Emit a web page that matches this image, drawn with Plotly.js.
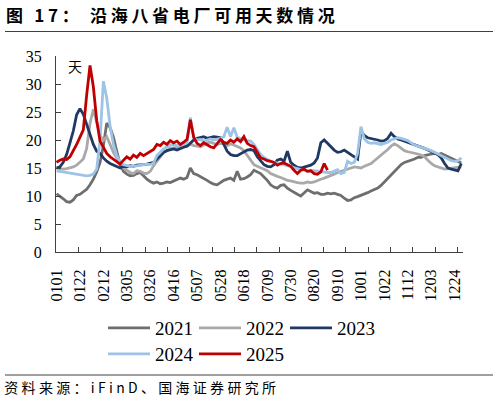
<!DOCTYPE html>
<html><head><meta charset="utf-8">
<script src="https://cdn.plot.ly/plotly-3.0.1.min.js"></script>
<style>
html,body{margin:0;padding:0;background:#fff;}
#chart{width:498px;height:402px;}
.gtitle{letter-spacing:3.7px;}
.annotation[data-index="0"] .annotation-text{letter-spacing:3.3px;}
</style></head><body><div id="chart"></div>
<script>
// sampled dates (every 3 days)
const dates = [
'0101','0104','0107','0110','0113','0116','0119','0122','0125','0128',
'0131','0203','0206','0209','0212','0215','0218','0221','0224','0227',
'0302','0305','0308','0311','0314','0317','0320','0323','0326','0329',
'0401','0404','0407','0410','0413','0416','0419','0422','0425','0428',
'0501','0504','0507','0510','0513','0516','0519','0522','0525','0528',
'0531','0603','0606','0609','0612','0615','0618','0621','0624','0627',
'0630','0703','0706','0709','0712','0715','0718','0721','0724','0727',
'0730','0802','0805','0808','0811','0814','0817','0820','0823','0826',
'0829','0901','0904','0907','0910','0913','0916','0919','0922','0925',
'0928','1001','1004','1007','1010','1013','1016','1019','1022','1025',
'1028','1031','1103','1106','1109','1112','1115','1118','1121','1124',
'1127','1130','1203','1206','1209','1212','1215','1218','1221','1224',
'1227','1230'];
const tickLabels = ['0101','0122','0212','0305','0326','0416','0507','0528','0618','0709','0730','0820','0910','1001','1022','1112','1203','1224'];
const seriesNames = ['2021','2022','2023','2024','2025'];

const v2021 = [
10.4,10.0,9.5,9.0,8.9,9.3,10.1,10.3,10.7,11.2,
12.0,13.0,14.3,16.0,19.0,23.0,22.2,20.5,18.0,15.6,
14.4,13.9,13.6,13.7,14.0,14.2,13.6,13.0,12.6,12.3,
12.5,12.2,12.3,12.5,12.4,12.7,13.0,13.2,13.0,13.3,
15.0,14.0,13.8,13.5,13.2,12.8,12.4,12.1,12.0,12.4,
12.8,13.0,13.2,12.8,14.4,13.0,13.1,13.4,13.8,14.6,
14.3,14.0,13.4,12.8,12.0,11.6,11.4,11.9,12.0,11.4,
11.0,10.6,10.3,10.0,10.6,11.1,10.8,10.5,10.6,10.3,
10.3,10.5,10.4,10.5,10.3,10.1,9.6,9.2,9.3,9.7,
9.9,10.1,10.4,10.6,10.9,11.2,11.4,11.9,12.5,13.2,
13.8,14.3,15.0,15.6,16.0,16.2,16.3,16.6,16.9,16.9,
17.2,17.4,17.5,17.6,17.4,17.6,17.3,17.0,16.7,16.4,
16.1,15.9];
const v2022 = [
15.0,14.9,14.8,14.9,15.0,15.2,15.5,16.0,16.6,18.5,
23.0,25.5,23.0,20.8,20.0,20.6,19.2,17.8,16.8,15.8,
15.0,14.6,14.2,14.0,14.5,14.4,14.1,14.0,14.4,15.4,
16.3,17.0,17.7,18.2,18.5,18.6,18.7,18.9,18.9,19.0,
19.3,19.0,18.9,18.8,19.1,19.5,19.6,19.4,19.2,19.4,
19.3,19.0,19.3,19.1,18.9,18.6,18.1,17.3,16.4,15.6,
15.3,15.0,14.8,14.5,14.0,13.7,13.5,13.3,13.0,12.8,
12.7,12.5,12.4,12.3,12.3,12.5,12.4,12.5,12.8,13.0,
13.2,13.4,13.7,13.9,14.2,14.4,14.6,14.8,15.0,15.2,
15.1,15.0,15.3,15.5,15.8,16.3,16.8,17.2,17.7,18.3,
18.9,19.3,19.0,18.5,18.1,17.9,17.8,17.6,17.5,17.3,
17.0,16.4,15.8,15.4,15.2,15.0,14.8,14.9,15.0,15.0,
15.1,15.2];
const v2023 = [
15.0,15.2,16.0,17.4,19.5,21.6,24.5,25.6,24.6,22.8,
21.0,19.2,18.0,17.6,16.8,16.2,15.8,15.5,15.2,15.0,
15.3,15.2,15.4,15.3,15.5,15.5,15.6,15.7,15.8,16.0,
16.6,17.3,17.8,18.1,18.3,18.4,18.2,18.5,18.7,18.9,
19.5,20.0,20.3,20.5,20.6,20.3,20.4,20.6,20.5,20.4,
19.2,18.0,17.4,17.2,17.2,17.5,17.8,18.2,18.3,18.1,
17.0,16.2,15.6,15.3,15.2,15.6,16.4,16.6,16.2,18.0,
16.0,15.5,15.1,15.0,15.2,15.3,15.5,15.9,16.8,19.5,
20.0,19.4,18.8,18.2,17.8,17.9,18.2,17.8,17.4,17.0,
16.6,21.6,20.8,20.4,20.3,20.1,20.0,19.8,19.9,20.3,
21.2,20.6,20.2,20.0,19.8,19.6,19.3,19.1,18.9,18.7,
18.5,18.2,18.0,17.7,17.4,16.8,15.8,15.0,14.8,14.6,
14.5,15.8];
const v2024 = [
14.5,14.4,14.4,14.3,14.2,14.1,14.0,13.9,13.7,13.6,
13.7,13.9,14.8,20.0,30.5,27.5,22.5,19.2,17.2,16.0,
15.6,15.4,15.3,15.3,15.4,15.5,15.6,15.7,15.6,15.9,
17.2,17.9,18.4,18.8,19.1,19.2,19.0,19.1,19.3,19.5,
24.0,20.4,20.0,20.1,19.8,20.0,20.2,20.0,20.1,20.3,
20.6,22.3,20.6,22.2,20.5,20.2,20.0,19.9,19.8,19.2,
18.2,17.4,16.9,16.5,16.2,16.0,15.9,15.8,15.6,15.4,
15.2,15.0,14.8,14.7,14.6,14.4,14.6,14.5,14.4,14.4,
14.3,14.2,14.2,14.4,14.7,14.0,14.2,16.2,15.8,16.0,
17.6,22.4,20.2,19.6,19.4,19.5,19.3,19.2,19.4,19.6,
20.0,20.2,20.4,20.3,20.1,19.9,19.5,19.1,18.9,18.7,
18.6,18.4,18.1,17.8,17.5,17.1,16.9,16.6,16.3,16.2,
16.3,16.8];
const v2025 = [
16.0,16.4,16.6,16.5,17.0,18.0,19.2,20.5,21.8,28.0,
33.3,29.5,23.5,19.8,18.6,17.6,17.0,16.6,16.2,15.7,
16.4,17.0,16.6,17.3,16.9,17.6,17.2,17.6,18.0,18.3,
19.2,19.0,19.6,19.2,19.9,19.5,19.8,19.2,19.6,20.1,
23.6,20.5,19.4,19.0,19.5,19.1,18.8,18.6,19.3,20.1,
19.6,19.4,20.0,19.6,20.2,19.7,20.6,19.4,19.0,18.8,
17.8,16.8,16.6,16.3,16.2,16.0,15.5,15.8,15.9,15.6,
15.3,14.6,14.0,14.6,14.8,14.4,14.5,14.0,13.9,14.3,
15.8,14.6];

const values = [v2021, v2022, v2023, v2024, v2025];
const colors = ['#6e6e6e', '#a9a9a9', '#1f3864', '#9dc3e6', '#c00000'];
const legendOf = ['legend', 'legend', 'legend', 'legend2', 'legend2'];

// geometry helpers (pixel -> paper)
const W = 498, H = 402, L = 56, R = 463, T = 56, B = 252;
const px = x => (x - L) / (R - L);
const py = y => (B - y) / (B - T);

const nDays = 365, step = 3;
const traces = values.map((v, i) => ({
  type: 'scatter', mode: 'lines', name: seriesNames[i],
  x: dates.slice(0, v.length), y: v,
  line: {color: colors[i], width: 2.8},
  legend: legendOf[i], hoverinfo: 'skip'
}));
traces.push({type: 'scatter', x: [], y: [], xaxis: 'x2', showlegend: false, hoverinfo: 'skip'});

const axisFont = {family: 'Liberation Serif, Times New Roman, serif', size: 16, color: '#000'};
const legendBase = {
  orientation: 'h', xanchor: 'left', yanchor: 'middle',
  font: {family: 'Liberation Serif, Times New Roman, serif', size: 19, color: '#000'},
  itemwidth: 42, entrywidth: 34, bgcolor: 'rgba(0,0,0,0)', borderwidth: 0,
  traceorder: 'normal', itemclick: false, itemdoubleclick: false
};

const layout = {
  width: W, height: H,
  margin: {l: L, r: W - R, t: T, b: H - B, autoexpand: false},
  paper_bgcolor: '#fff', plot_bgcolor: '#fff',
  showlegend: true,
  title: {
    text: '图 17： 沿海八省电厂可用天数情况',
    x: 6 / W, xref: 'container', xanchor: 'left',
    y: 1 - 16 / H, yref: 'container', yanchor: 'middle',
    font: {family: 'Noto Sans CJK SC, sans-serif', size: 17, color: '#000', weight: 'bold'}
  },
  xaxis: {
    type: 'category', categoryorder: 'array', categoryarray: dates,
    range: [-0.5 / step, (nDays - 0.5) / step],
    tickmode: 'array', tickvals: tickLabels, ticktext: tickLabels,
    ticks: '', tickangle: -90, tickfont: axisFont, ticklabelstandoff: 10,
    showline: true, linecolor: '#404040', linewidth: 1,
    showgrid: false, zeroline: false, fixedrange: true
  },
  xaxis2: {
    overlaying: 'x', anchor: 'y', side: 'bottom',
    range: [-0.5, nDays - 0.5], tickmode: 'linear', tick0: 19.5, dtick: 20,
    ticks: 'inside', ticklen: 5, tickcolor: '#404040', tickwidth: 1,
    showticklabels: false, showgrid: false, showline: false, zeroline: false, fixedrange: true
  },
  yaxis: {
    range: [0, 35], tickmode: 'linear', tick0: 0, dtick: 5,
    ticks: 'inside', ticklen: 5, tickcolor: '#404040', tickwidth: 1,
    tickfont: axisFont, ticklabelstandoff: 10,
    showline: true, linecolor: '#404040', linewidth: 1,
    showgrid: false, zeroline: false, fixedrange: true
  },
  legend: Object.assign({}, legendBase, {x: px(103), y: py(328)}),
  legend2: Object.assign({}, legendBase, {x: px(103), y: py(354)}),
  shapes: [
    {type: 'line', xref: 'paper', yref: 'paper', x0: px(5), x1: px(493), y0: py(31.5), y1: py(31.5), line: {color: '#404040', width: 1.2}},
    {type: 'line', xref: 'paper', yref: 'paper', x0: px(5), x1: px(493), y0: py(375), y1: py(375), line: {color: '#404040', width: 1.2}}
  ],
  annotations: [
    {text: '资料来源：iFinD、国海证券研究所', xref: 'paper', yref: 'paper', x: px(32), y: py(387),
     xanchor: 'left', yanchor: 'middle', showarrow: false,
     font: {family: 'Noto Sans CJK SC, sans-serif', size: 14, color: '#000'}},
    {text: '天', xref: 'paper', yref: 'paper', x: px(75), y: py(66),
     xanchor: 'center', yanchor: 'middle', showarrow: false,
     font: {family: 'Noto Sans CJK SC, sans-serif', size: 14, color: '#000'}}
  ]
};

Plotly.newPlot('chart', traces, layout, {displayModeBar: false, staticPlot: true});
</script></body></html>
